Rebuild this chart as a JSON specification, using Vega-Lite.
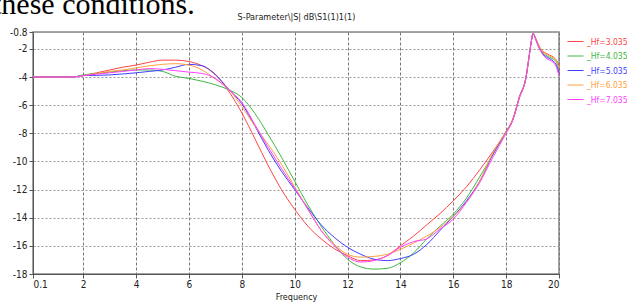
{
  "$schema": "https://vega.github.io/schema/vega-lite/v6.json",
  "width": 526,
  "height": 242,
  "autosize": "none",
  "padding": {"left": 33, "top": 32, "right": 68, "bottom": 31},
  "background": "white",
  "title": {
    "text": "these conditions.",
    "anchor": "start",
    "frame": "group",
    "font": "Liberation Serif",
    "fontSize": 30,
    "fontWeight": "normal",
    "color": "black",
    "baseline": "alphabetic",
    "offset": 0,
    "dx": -40,
    "dy": 32
  },
  "datasets": {
    "d": [
      {"s":"_Hf=3.035","f":0.1,"v":-4},{"s":"_Hf=3.035","f":1,"v":-4},{"s":"_Hf=3.035","f":1.6,"v":-4},{"s":"_Hf=3.035","f":2,"v":-3.9},{"s":"_Hf=3.035","f":2.5,"v":-3.7},{"s":"_Hf=3.035","f":3,"v":-3.5},{"s":"_Hf=3.035","f":3.5,"v":-3.3},{"s":"_Hf=3.035","f":4,"v":-3.15},{"s":"_Hf=3.035","f":4.5,"v":-2.95},{"s":"_Hf=3.035","f":5,"v":-2.8},{"s":"_Hf=3.035","f":5.5,"v":-2.8},{"s":"_Hf=3.035","f":6,"v":-2.9},{"s":"_Hf=3.035","f":6.5,"v":-3.2},{"s":"_Hf=3.035","f":7,"v":-3.8},{"s":"_Hf=3.035","f":7.5,"v":-5.0},{"s":"_Hf=3.035","f":8,"v":-6.55},{"s":"_Hf=3.035","f":8.5,"v":-8.4},{"s":"_Hf=3.035","f":9,"v":-10.3},{"s":"_Hf=3.035","f":9.5,"v":-12.0},{"s":"_Hf=3.035","f":10,"v":-13.4},{"s":"_Hf=3.035","f":10.5,"v":-14.6},{"s":"_Hf=3.035","f":11,"v":-15.5},{"s":"_Hf=3.035","f":11.5,"v":-16.2},{"s":"_Hf=3.035","f":12,"v":-16.7},{"s":"_Hf=3.035","f":12.5,"v":-17.05},{"s":"_Hf=3.035","f":13,"v":-17.0},{"s":"_Hf=3.035","f":13.5,"v":-16.7},{"s":"_Hf=3.035","f":14,"v":-16.0},{"s":"_Hf=3.035","f":14.5,"v":-15.3},{"s":"_Hf=3.035","f":15,"v":-14.5},{"s":"_Hf=3.035","f":15.5,"v":-13.7},{"s":"_Hf=3.035","f":16,"v":-12.8},{"s":"_Hf=3.035","f":16.5,"v":-11.8},{"s":"_Hf=3.035","f":17,"v":-10.6},{"s":"_Hf=3.035","f":17.5,"v":-9.3},{"s":"_Hf=3.035","f":18,"v":-7.85},{"s":"_Hf=3.035","f":18.25,"v":-7.0},{"s":"_Hf=3.035","f":18.5,"v":-5.4},{"s":"_Hf=3.035","f":18.75,"v":-4.0},{"s":"_Hf=3.035","f":18.85,"v":-2.8},{"s":"_Hf=3.035","f":18.95,"v":-1.5},{"s":"_Hf=3.035","f":19.02,"v":-0.9},{"s":"_Hf=3.035","f":19.1,"v":-1.15},{"s":"_Hf=3.035","f":19.2,"v":-1.6},{"s":"_Hf=3.035","f":19.35,"v":-2.1},{"s":"_Hf=3.035","f":19.5,"v":-2.3},{"s":"_Hf=3.035","f":19.65,"v":-2.45},{"s":"_Hf=3.035","f":19.8,"v":-2.6},{"s":"_Hf=3.035","f":19.9,"v":-2.8},{"s":"_Hf=3.035","f":20,"v":-3.2},

      {"s":"_Hf=4.035","f":0.1,"v":-4},{"s":"_Hf=4.035","f":1,"v":-4},{"s":"_Hf=4.035","f":1.6,"v":-4},{"s":"_Hf=4.035","f":2,"v":-3.85},{"s":"_Hf=4.035","f":2.5,"v":-3.75},{"s":"_Hf=4.035","f":3,"v":-3.65},{"s":"_Hf=4.035","f":3.5,"v":-3.55},{"s":"_Hf=4.035","f":4,"v":-3.5},{"s":"_Hf=4.035","f":4.5,"v":-3.5},{"s":"_Hf=4.035","f":5,"v":-3.6},{"s":"_Hf=4.035","f":5.5,"v":-3.95},{"s":"_Hf=4.035","f":6,"v":-4.1},{"s":"_Hf=4.035","f":6.5,"v":-4.3},{"s":"_Hf=4.035","f":7,"v":-4.55},{"s":"_Hf=4.035","f":7.5,"v":-4.9},{"s":"_Hf=4.035","f":8,"v":-5.45},{"s":"_Hf=4.035","f":8.5,"v":-6.6},{"s":"_Hf=4.035","f":9,"v":-8.1},{"s":"_Hf=4.035","f":9.5,"v":-9.7},{"s":"_Hf=4.035","f":10,"v":-11.4},{"s":"_Hf=4.035","f":10.5,"v":-13.1},{"s":"_Hf=4.035","f":11,"v":-14.6},{"s":"_Hf=4.035","f":11.5,"v":-15.9},{"s":"_Hf=4.035","f":12,"v":-16.95},{"s":"_Hf=4.035","f":12.5,"v":-17.5},{"s":"_Hf=4.035","f":13,"v":-17.65},{"s":"_Hf=4.035","f":13.5,"v":-17.6},{"s":"_Hf=4.035","f":14,"v":-17.2},{"s":"_Hf=4.035","f":14.5,"v":-16.5},{"s":"_Hf=4.035","f":15,"v":-15.5},{"s":"_Hf=4.035","f":15.5,"v":-14.6},{"s":"_Hf=4.035","f":16,"v":-13.75},{"s":"_Hf=4.035","f":16.5,"v":-12.6},{"s":"_Hf=4.035","f":17,"v":-11.1},{"s":"_Hf=4.035","f":17.5,"v":-9.5},{"s":"_Hf=4.035","f":18,"v":-7.9},{"s":"_Hf=4.035","f":18.25,"v":-7.05},{"s":"_Hf=4.035","f":18.5,"v":-5.45},{"s":"_Hf=4.035","f":18.75,"v":-4.05},{"s":"_Hf=4.035","f":18.85,"v":-2.8},{"s":"_Hf=4.035","f":18.95,"v":-1.5},{"s":"_Hf=4.035","f":19.02,"v":-0.9},{"s":"_Hf=4.035","f":19.1,"v":-1.2},{"s":"_Hf=4.035","f":19.2,"v":-1.65},{"s":"_Hf=4.035","f":19.35,"v":-2.2},{"s":"_Hf=4.035","f":19.5,"v":-2.45},{"s":"_Hf=4.035","f":19.65,"v":-2.6},{"s":"_Hf=4.035","f":19.8,"v":-2.75},{"s":"_Hf=4.035","f":19.9,"v":-2.95},{"s":"_Hf=4.035","f":20,"v":-3.45},

      {"s":"_Hf=5.035","f":0.1,"v":-4},{"s":"_Hf=5.035","f":1,"v":-4},{"s":"_Hf=5.035","f":1.6,"v":-4},{"s":"_Hf=5.035","f":2,"v":-3.9},{"s":"_Hf=5.035","f":2.5,"v":-3.88},{"s":"_Hf=5.035","f":3,"v":-3.85},{"s":"_Hf=5.035","f":3.5,"v":-3.78},{"s":"_Hf=5.035","f":4,"v":-3.7},{"s":"_Hf=5.035","f":4.5,"v":-3.6},{"s":"_Hf=5.035","f":5,"v":-3.5},{"s":"_Hf=5.035","f":5.5,"v":-3.3},{"s":"_Hf=5.035","f":6,"v":-3.1},{"s":"_Hf=5.035","f":6.5,"v":-3.2},{"s":"_Hf=5.035","f":7,"v":-3.85},{"s":"_Hf=5.035","f":7.5,"v":-4.85},{"s":"_Hf=5.035","f":8,"v":-5.9},{"s":"_Hf=5.035","f":8.5,"v":-7.5},{"s":"_Hf=5.035","f":9,"v":-9.2},{"s":"_Hf=5.035","f":9.5,"v":-10.7},{"s":"_Hf=5.035","f":10,"v":-12.0},{"s":"_Hf=5.035","f":10.5,"v":-13.3},{"s":"_Hf=5.035","f":11,"v":-14.5},{"s":"_Hf=5.035","f":11.5,"v":-15.4},{"s":"_Hf=5.035","f":12,"v":-16.1},{"s":"_Hf=5.035","f":12.5,"v":-16.6},{"s":"_Hf=5.035","f":13,"v":-16.95},{"s":"_Hf=5.035","f":13.5,"v":-17.05},{"s":"_Hf=5.035","f":14,"v":-16.9},{"s":"_Hf=5.035","f":14.5,"v":-16.6},{"s":"_Hf=5.035","f":15,"v":-15.9},{"s":"_Hf=5.035","f":15.5,"v":-14.9},{"s":"_Hf=5.035","f":16,"v":-13.9},{"s":"_Hf=5.035","f":16.5,"v":-12.8},{"s":"_Hf=5.035","f":17,"v":-11.4},{"s":"_Hf=5.035","f":17.5,"v":-9.5},{"s":"_Hf=5.035","f":18,"v":-7.9},{"s":"_Hf=5.035","f":18.25,"v":-7.05},{"s":"_Hf=5.035","f":18.5,"v":-5.45},{"s":"_Hf=5.035","f":18.75,"v":-4.05},{"s":"_Hf=5.035","f":18.85,"v":-2.8},{"s":"_Hf=5.035","f":18.95,"v":-1.5},{"s":"_Hf=5.035","f":19.02,"v":-0.9},{"s":"_Hf=5.035","f":19.1,"v":-1.2},{"s":"_Hf=5.035","f":19.2,"v":-1.7},{"s":"_Hf=5.035","f":19.35,"v":-2.25},{"s":"_Hf=5.035","f":19.5,"v":-2.55},{"s":"_Hf=5.035","f":19.65,"v":-2.7},{"s":"_Hf=5.035","f":19.8,"v":-2.9},{"s":"_Hf=5.035","f":19.9,"v":-3.15},{"s":"_Hf=5.035","f":20,"v":-3.7},

      {"s":"_Hf=6.035","f":0.1,"v":-4},{"s":"_Hf=6.035","f":1,"v":-4},{"s":"_Hf=6.035","f":1.6,"v":-4},{"s":"_Hf=6.035","f":2,"v":-3.9},{"s":"_Hf=6.035","f":2.5,"v":-3.75},{"s":"_Hf=6.035","f":3,"v":-3.6},{"s":"_Hf=6.035","f":3.5,"v":-3.5},{"s":"_Hf=6.035","f":4,"v":-3.35},{"s":"_Hf=6.035","f":4.5,"v":-3.2},{"s":"_Hf=6.035","f":5,"v":-3.1},{"s":"_Hf=6.035","f":5.5,"v":-3.05},{"s":"_Hf=6.035","f":6,"v":-3.15},{"s":"_Hf=6.035","f":6.5,"v":-3.5},{"s":"_Hf=6.035","f":7,"v":-4.15},{"s":"_Hf=6.035","f":7.5,"v":-4.85},{"s":"_Hf=6.035","f":8,"v":-6.1},{"s":"_Hf=6.035","f":8.5,"v":-7.5},{"s":"_Hf=6.035","f":9,"v":-8.8},{"s":"_Hf=6.035","f":9.5,"v":-10.2},{"s":"_Hf=6.035","f":10,"v":-11.8},{"s":"_Hf=6.035","f":10.5,"v":-13.4},{"s":"_Hf=6.035","f":11,"v":-14.9},{"s":"_Hf=6.035","f":11.5,"v":-15.9},{"s":"_Hf=6.035","f":12,"v":-16.6},{"s":"_Hf=6.035","f":12.5,"v":-16.8},{"s":"_Hf=6.035","f":13,"v":-16.75},{"s":"_Hf=6.035","f":13.5,"v":-16.6},{"s":"_Hf=6.035","f":14,"v":-16.25},{"s":"_Hf=6.035","f":14.5,"v":-15.8},{"s":"_Hf=6.035","f":15,"v":-15.3},{"s":"_Hf=6.035","f":15.5,"v":-14.7},{"s":"_Hf=6.035","f":16,"v":-13.9},{"s":"_Hf=6.035","f":16.5,"v":-12.9},{"s":"_Hf=6.035","f":17,"v":-11.4},{"s":"_Hf=6.035","f":17.5,"v":-9.4},{"s":"_Hf=6.035","f":18,"v":-7.9},{"s":"_Hf=6.035","f":18.25,"v":-7.05},{"s":"_Hf=6.035","f":18.5,"v":-5.45},{"s":"_Hf=6.035","f":18.75,"v":-4.05},{"s":"_Hf=6.035","f":18.85,"v":-2.8},{"s":"_Hf=6.035","f":18.95,"v":-1.5},{"s":"_Hf=6.035","f":19.02,"v":-0.9},{"s":"_Hf=6.035","f":19.1,"v":-1.15},{"s":"_Hf=6.035","f":19.2,"v":-1.62},{"s":"_Hf=6.035","f":19.35,"v":-2.15},{"s":"_Hf=6.035","f":19.5,"v":-2.35},{"s":"_Hf=6.035","f":19.65,"v":-2.5},{"s":"_Hf=6.035","f":19.8,"v":-2.65},{"s":"_Hf=6.035","f":19.9,"v":-2.85},{"s":"_Hf=6.035","f":20,"v":-3.35},

      {"s":"_Hf=7.035","f":0.1,"v":-4},{"s":"_Hf=7.035","f":1,"v":-4},{"s":"_Hf=7.035","f":1.6,"v":-4},{"s":"_Hf=7.035","f":2,"v":-3.9},{"s":"_Hf=7.035","f":2.5,"v":-3.8},{"s":"_Hf=7.035","f":3,"v":-3.7},{"s":"_Hf=7.035","f":3.5,"v":-3.6},{"s":"_Hf=7.035","f":4,"v":-3.5},{"s":"_Hf=7.035","f":4.5,"v":-3.4},{"s":"_Hf=7.035","f":5,"v":-3.45},{"s":"_Hf=7.035","f":5.5,"v":-3.55},{"s":"_Hf=7.035","f":6,"v":-3.65},{"s":"_Hf=7.035","f":6.5,"v":-3.75},{"s":"_Hf=7.035","f":7,"v":-4.1},{"s":"_Hf=7.035","f":7.5,"v":-4.9},{"s":"_Hf=7.035","f":8,"v":-5.8},{"s":"_Hf=7.035","f":8.5,"v":-7.4},{"s":"_Hf=7.035","f":9,"v":-9.0},{"s":"_Hf=7.035","f":9.5,"v":-10.5},{"s":"_Hf=7.035","f":10,"v":-11.9},{"s":"_Hf=7.035","f":10.5,"v":-13.4},{"s":"_Hf=7.035","f":11,"v":-14.9},{"s":"_Hf=7.035","f":11.5,"v":-16.0},{"s":"_Hf=7.035","f":12,"v":-16.8},{"s":"_Hf=7.035","f":12.5,"v":-17.15},{"s":"_Hf=7.035","f":13,"v":-17.05},{"s":"_Hf=7.035","f":13.5,"v":-16.7},{"s":"_Hf=7.035","f":14,"v":-16.1},{"s":"_Hf=7.035","f":14.5,"v":-15.7},{"s":"_Hf=7.035","f":15,"v":-15.5},{"s":"_Hf=7.035","f":15.5,"v":-14.8},{"s":"_Hf=7.035","f":16,"v":-14.1},{"s":"_Hf=7.035","f":16.5,"v":-12.9},{"s":"_Hf=7.035","f":17,"v":-11.5},{"s":"_Hf=7.035","f":17.5,"v":-9.7},{"s":"_Hf=7.035","f":18,"v":-8.0},{"s":"_Hf=7.035","f":18.25,"v":-7.1},{"s":"_Hf=7.035","f":18.5,"v":-5.5},{"s":"_Hf=7.035","f":18.75,"v":-4.05},{"s":"_Hf=7.035","f":18.85,"v":-2.8},{"s":"_Hf=7.035","f":18.95,"v":-1.5},{"s":"_Hf=7.035","f":19.02,"v":-0.9},{"s":"_Hf=7.035","f":19.1,"v":-1.25},{"s":"_Hf=7.035","f":19.2,"v":-1.75},{"s":"_Hf=7.035","f":19.35,"v":-2.3},{"s":"_Hf=7.035","f":19.5,"v":-2.65},{"s":"_Hf=7.035","f":19.65,"v":-2.8},{"s":"_Hf=7.035","f":19.8,"v":-3.0},{"s":"_Hf=7.035","f":19.9,"v":-3.3},{"s":"_Hf=7.035","f":20,"v":-3.9}
    ]
  },
  "data": {"name": "d"},
  "encoding": {
    "y": {
      "field": "v",
      "type": "quantitative",
      "scale": {"domain": [-18, -0.8], "nice": false, "zero": false},
      "axis": {
        "values": [-0.8, -2, -4, -6, -8, -10, -12, -14, -16, -18],
        "labelExpr": "toString(datum.value)",
        "title": null,
        "grid": true,
        "gridDash": [2, 2],
        "gridColor": "#999999",
        "tickSize": 4,
        "labelPadding": 2
      }
    }
  },
  "layer": [
    {
      "mark": {"type": "line", "strokeWidth": 1, "interpolate": "monotone"},
      "encoding": {
        "x": {
          "field": "f",
          "type": "quantitative",
          "scale": {"domain": [0.1, 20], "nice": false, "zero": false},
          "axis": {
            "orient": "bottom",
            "values": [0.1, 2, 4, 6, 8, 10, 12, 14, 16, 18, 20],
            "labelExpr": "toString(datum.value)",
            "title": "Frequency",
            "titleFontSize": 9,
            "titleFontWeight": "normal",
            "titlePadding": 3,
            "grid": true,
            "gridDash": [3, 2],
            "gridColor": "#777777",
            "tickSize": 4,
            "labelPadding": 1
          }
        },
        "color": {
          "field": "s",
          "type": "nominal",
          "scale": {
            "domain": ["_Hf=3.035", "_Hf=4.035", "_Hf=5.035", "_Hf=6.035", "_Hf=7.035"],
            "range": ["#ff4545", "#3fb83f", "#3f3fff", "#ffa040", "#ff40ff"]
          },
          "legend": {
            "orient": "none",
            "legendX": 534,
            "legendY": 1,
            "title": null,
            "symbolType": "stroke",
            "symbolSize": 256,
            "symbolStrokeWidth": 1,
            "labelFontSize": 8.5,
            "labelOffset": 3,
            "rowPadding": 1.5,
            "labelColor": {"expr": "scale('color', datum.value)"}
          }
        }
      }
    },
    {
      "mark": {"type": "line", "strokeOpacity": 0},
      "encoding": {
        "x": {
          "field": "f",
          "type": "quantitative",
          "scale": {"domain": [0.1, 20], "nice": false, "zero": false},
          "axis": {
            "orient": "top",
            "labels": false,
            "ticks": false,
            "domain": false,
            "grid": false,
            "title": "S-Parameter\\|S| dB\\S1(1)1(1)",
            "titleFontSize": 9,
            "titleFontWeight": "normal",
            "titlePadding": 11
          }
        },
        "detail": {"field": "s", "type": "nominal"}
      }
    }
  ],
  "resolve": {"axis": {"x": "independent"}},
  "config": {
    "font": "Liberation Sans Narrow, DejaVu Sans Condensed, Liberation Sans, sans-serif",
    "view": {"stroke": "#888888", "strokeWidth": 1.5},
    "axis": {
      "labelFontSize": 10,
      "labelColor": "#222222",
      "titleColor": "#222222",
      "domainColor": "#555555",
      "tickColor": "#555555",
      "labelFont": "Liberation Sans Narrow, DejaVu Sans Condensed, Liberation Sans, sans-serif",
      "titleFont": "Liberation Sans Narrow, DejaVu Sans Condensed, Liberation Sans, sans-serif"
    },
    "legend": {
      "labelFont": "Liberation Sans Narrow, DejaVu Sans Condensed, Liberation Sans, sans-serif"
    }
  }
}
